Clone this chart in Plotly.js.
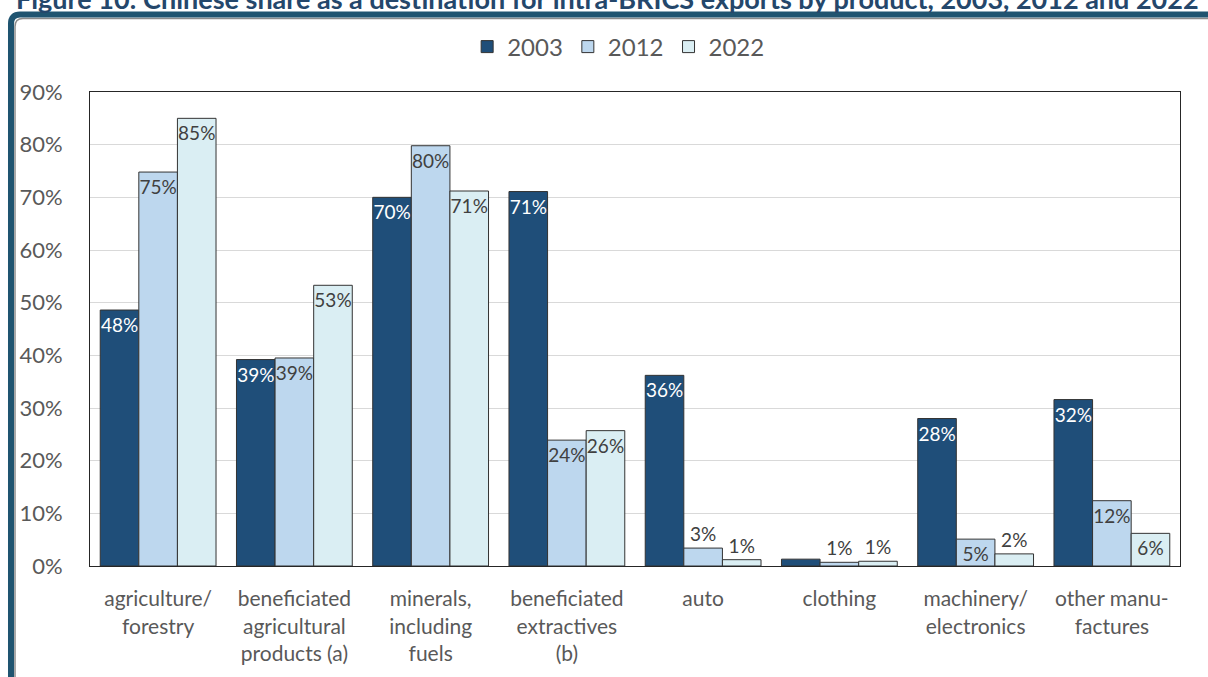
<!DOCTYPE html>
<html>
<head>
<meta charset="utf-8">
<script src="https://cdn.plot.ly/plotly-3.0.1.min.js"></script>
<style>html,body{margin:0;padding:0;background:#fff;}#chart{width:1208px;height:677px;}</style>
</head>
<body>
<div id="chart"></div>
<script>
// ---- data ----
const categories = [
  "agriculture/<br>forestry",
  "beneficiated<br>agricultural<br>products (a)",
  "minerals,<br>including<br>fuels",
  "beneficiated<br>extractives<br>(b)",
  "auto",
  "clothing",
  "machinery/<br>electronics",
  "other manu-<br>factures"
];
const seriesNames = ["2003", "2012", "2022"];
const values2003 = [48.6, 39.2, 70.0, 71.1, 36.2, 1.3, 28.0, 31.6];
const values2012 = [74.8, 39.5, 79.8, 23.9, 3.4, 0.7, 5.1, 12.4];
const values2022 = [85.0, 53.3, 71.2, 25.7, 1.2, 0.9, 2.3, 6.2];
const labels2003 = ["48%", "39%", "70%", "71%", "36%", "", "28%", "32%"];
const labels2012 = ["75%", "39%", "80%", "24%", "3%", "1%", "5%", "12%"];
const labels2022 = ["85%", "53%", "71%", "26%", "1%", "1%", "2%", "6%"];
const yTickVals = [0, 10, 20, 30, 40, 50, 60, 70, 80, 90];
const yTickText = ["0%", "10%", "20%", "30%", "40%", "50%", "60%", "70%", "80%", "90%"];
const titleText = "Figure 10: Chinese share as a destination for intra-BRICS exports by product, 2003, 2012 and 2022";

// ---- styles ----
const FONT = "Lato, 'Open Sans', sans-serif";
const GRAY = "#595959";
const colors = ["#1F4E79", "#BDD7EE", "#DAEEF3"];
const pos2003 = ["inside","inside","inside","inside","inside","none","inside","inside"];
const pos2012 = ["inside","inside","inside","inside","outside","outside","inside","inside"];
const pos2022 = ["inside","inside","inside","inside","outside","outside","outside","inside"];

function barTrace(name, vals, labels, color, positions, insideColor) {
  return {
    type: "bar", name: name, x: categories, y: vals,
    text: labels, textposition: positions, textangle: 0,
    insidetextanchor: "end", constraintext: "none", cliponaxis: false,
    insidetextfont: {family: FONT, size: 19, color: insideColor},
    outsidetextfont: {family: FONT, size: 19, color: "#404040"},
    marker: {color: color, line: {color: "#333333", width: 1}},
    hoverinfo: "skip"
  };
}

const traces = [
  barTrace(seriesNames[0], values2003, labels2003, colors[0], pos2003, "#ffffff"),
  barTrace(seriesNames[1], values2012, labels2012, colors[1], pos2012, "#404040"),
  barTrace(seriesNames[2], values2022, labels2022, colors[2], pos2022, "#404040")
];

// frame geometry helpers (pixel -> paper)
const L = 90, R = 28, T = 92, B = 111, W = 1208, H = 677;
const pw = W - L - R, ph = H - T - B;
const px = v => ((v - L) / pw).toFixed(5);
const py = v => ((H - B - v) / ph).toFixed(5);
function framePath(xc, yc, r) {
  return `M ${px(xc)},${py(H + 5)} L ${px(xc)},${py(yc + r)} Q ${px(xc)},${py(yc)} ${px(xc + r)},${py(yc)} L ${px(W + 5)},${py(yc)}`;
}

const layout = {
  width: W, height: H,
  margin: {l: L, r: R, t: T, b: B, pad: 0},
  paper_bgcolor: "#ffffff", plot_bgcolor: "#ffffff",
  font: {family: FONT, color: GRAY, size: 21},
  barmode: "group", bargap: 0.15, bargroupgap: 0,
  title: {
    text: "<b>" + titleText + "</b>",
    font: {family: FONT, size: 27, color: "#24476B"},
    xref: "container", yref: "container",
    x: 16 / W, xanchor: "left",
    y: 1 - 9 / H, yanchor: "bottom"
  },
  showlegend: true,
  legend: {
    orientation: "h", x: 0.485, xanchor: "center",
    y: (H - B - 47) / ph, yanchor: "middle",
    font: {family: FONT, size: 24, color: GRAY},
    traceorder: "normal", itemwidth: 30, bgcolor: "rgba(0,0,0,0)"
  },
  xaxis: {
    type: "category",
    showline: true, mirror: true, linecolor: "#262626", linewidth: 1,
    ticks: "", showgrid: false,
    tickfont: {family: FONT, size: 21, color: GRAY},
    ticklabelstandoff: 14, fixedrange: true
  },
  yaxis: {
    range: [0, 90], tickvals: yTickVals, ticktext: yTickText,
    showline: true, mirror: true, linecolor: "#262626", linewidth: 1,
    showgrid: true, gridcolor: "#D9D9D9", gridwidth: 1, zeroline: false,
    ticks: "", tickfont: {family: FONT, size: 22, color: GRAY},
    ticklabelstandoff: 22, fixedrange: true
  },
  shapes: [
    {type: "path", xref: "paper", yref: "paper", layer: "below",
     path: framePath(15, 18.5, 8), line: {color: "#8C8C8C", width: 1.5}},
    {type: "path", xref: "paper", yref: "paper", layer: "below",
     path: framePath(11, 14.5, 9), line: {color: "#1F5470", width: 6}}
  ]
};

Plotly.newPlot("chart", traces, layout, {displayModeBar: false, staticPlot: true});
</script>
</body>
</html>
